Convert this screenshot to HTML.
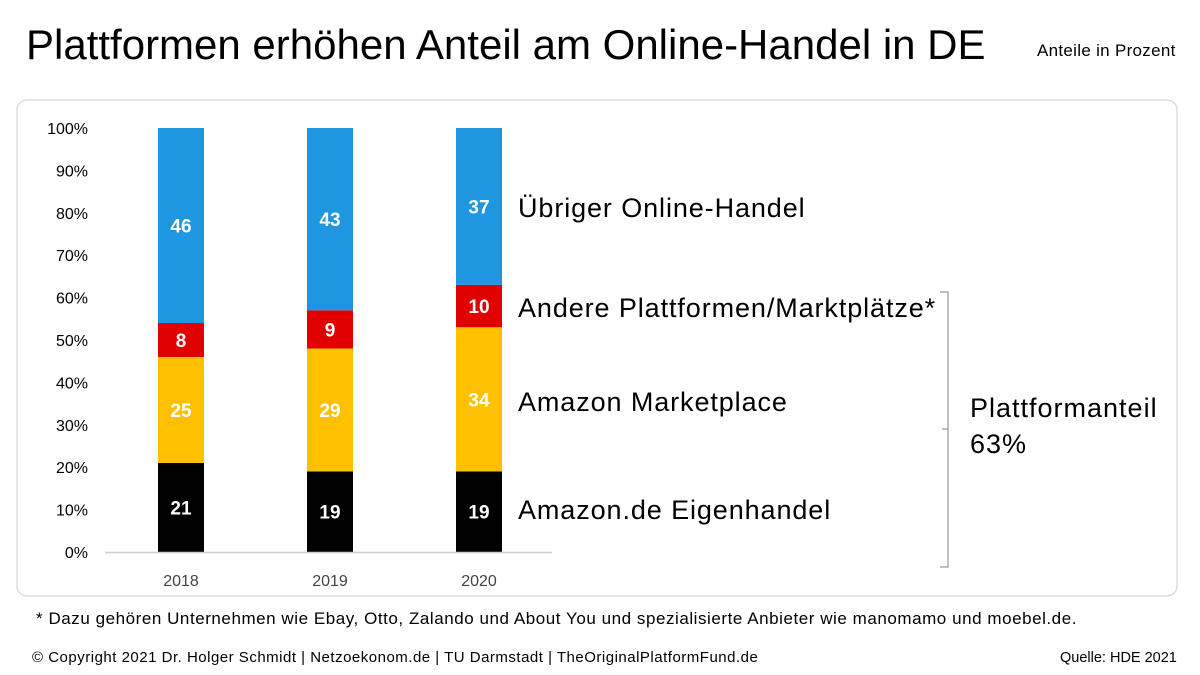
<!DOCTYPE html>
<html><head><meta charset="utf-8"><style>
body{margin:0;width:1200px;height:675px;background:#fff;font-family:"Liberation Sans",sans-serif;overflow:hidden;position:relative}
.t{position:absolute;white-space:nowrap;color:#000}
</style></head><body>
<div class="t" style="left:26px;top:21px;font-size:42px">Plattformen erhöhen Anteil am Online-Handel in DE</div>
<div class="t" style="left:1037px;top:41px;font-size:17px;letter-spacing:0.3px">Anteile in Prozent</div>
<svg width="1200" height="675" style="position:absolute;left:0;top:0">
<rect x="17" y="100" width="1160" height="496" rx="10" fill="none" stroke="#ddd" stroke-width="1.5"/>
<g id="g"></g>
<path d="M940 292 H948 V567 H940 M948 429 H942" fill="none" stroke="#999" stroke-width="1.2"/>
</svg>
<div class="t" style="left:518px;top:193px;font-size:27px;letter-spacing:0.9px">Übriger Online-Handel</div>
<div class="t" style="left:518px;top:293px;font-size:27px;letter-spacing:0.9px">Andere Plattformen/Marktplätze*</div>
<div class="t" style="left:518px;top:387px;font-size:27px;letter-spacing:0.9px">Amazon Marketplace</div>
<div class="t" style="left:518px;top:495px;font-size:27px;letter-spacing:0.9px">Amazon.de Eigenhandel</div>
<div class="t" style="left:970px;top:390px;font-size:27px;letter-spacing:1px;line-height:36px">Plattformanteil<br>63%</div>
<div class="t" style="left:36px;top:609px;font-size:17px;letter-spacing:0.55px">* Dazu gehören Unternehmen wie Ebay, Otto, Zalando und About You und spezialisierte Anbieter wie manomamo und moebel.de.</div>
<div class="t" style="left:32px;top:649px;font-size:15px;letter-spacing:0.5px">© Copyright 2021 Dr. Holger Schmidt | Netzoekonom.de | TU Darmstadt | TheOriginalPlatformFund.de</div>
<div class="t" style="left:1060px;top:650px;font-size:14.5px">Quelle: HDE 2021</div>
<script>
const years=["2018","2019","2020"];
const eigenhandel=[21,19,19];
const marketplace=[25,29,34];
const andere=[8,9,10];
const uebriger=[46,43,37];
const yTicks=[0,10,20,30,40,50,60,70,80,90,100];
const series=[[eigenhandel,"#000000","eigenhandel"],[marketplace,"#FFC000","marketplace"],[andere,"#E00000","andere"],[uebriger,"#1E96E0","uebriger"]];
const g=document.getElementById('g');const NS="http://www.w3.org/2000/svg";
const y=v=>552-v*4.24;const x=i=>181+i*149;const bw=46;
function mk(t,a,txt){const e=document.createElementNS(NS,t);for(const k in a)e.setAttribute(k,a[k]);if(txt!==undefined)e.textContent=txt;g.appendChild(e);return e;}
yTicks.forEach(v=>{const e=mk('text',{x:88,y:y(v)+6,'text-anchor':'end','font-size':16,fill:'#000'},v+'%');

});
years.forEach((yr,i)=>{let base=0;
series.forEach(([arr,col,nm])=>{const v=arr[i];
const r=mk('rect',{x:x(i)-bw/2,y:y(base+v),width:bw,height:y(base)-y(base+v),fill:col});


const t=mk('text',{x:x(i),y:(y(base)+y(base+v))/2+7,'text-anchor':'middle','font-size':19,'font-weight':'bold',fill:'#fff'},v);


base+=v;});
const l=mk('text',{x:x(i),y:586,'text-anchor':'middle','font-size':16,fill:'#444'},yr);

});
const ax=mk('line',{x1:105,x2:552,y1:552.5,y2:552.5,stroke:'#ccc','stroke-width':1.5});


</script>
</body></html>
